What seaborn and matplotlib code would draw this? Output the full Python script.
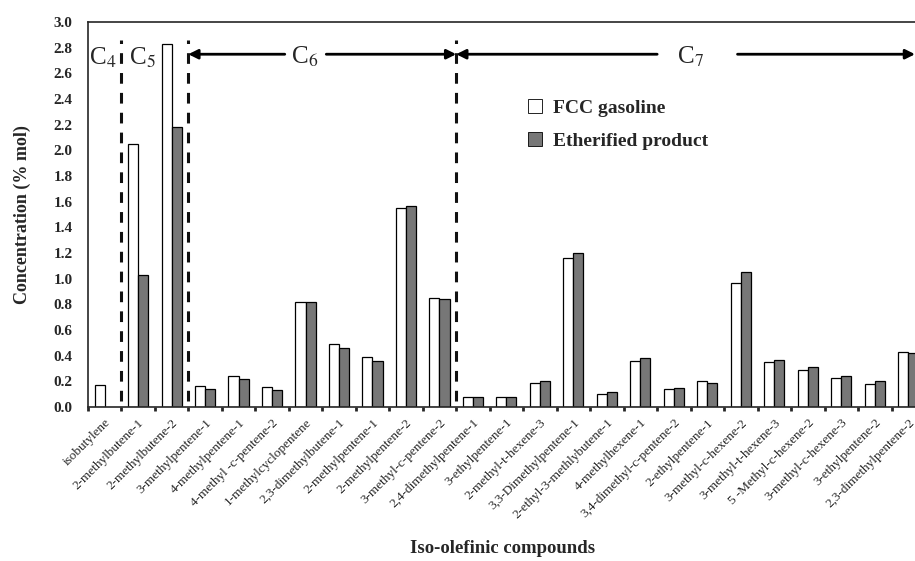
import numpy as np
import pandas as pd
import seaborn as sns
import matplotlib.pyplot as plt

# data
compounds = [
    "isobutylene", "2-methylbutene-1", "2-methylbutene-2", "3-methylpentene-1",
    "4-methylpentene-1", "4-methyl -c-pentene-2", "1-methylcyclopentene",
    "2,3-dimethylbutene-1", "2-methylpentene-1", "2-methylpentene-2",
    "3-methyl-c-pentene-2", "2,4-dimethylpentene-1", "3-ethylpentene-1",
    "2-methyl-t-hexene-3", "3,3-Dimethylpentene-1", "2-ethyl-3-methlybutene-1",
    "4-methylhexene-1", "3,4-dimethyl-c-pentene-2", "2-ethylpentene-1",
    "3-methyl-c-hexene-2", "3-methyl-t-hexene-3", "5 -Methyl-c-hexene-2",
    "3-methyl-c-hexene-3", "3-ethylpentene-2", "2,3-dimethylpentene-2",
]
fcc = [0.17, 2.05, 2.83, 0.16, 0.24, 0.155, 0.82, 0.49, 0.39, 1.55, 0.85,
       0.08, 0.075, 0.19, 1.16, 0.105, 0.36, 0.14, 0.20, 0.97, 0.35, 0.29,
       0.225, 0.18, 0.43]
etherified = [np.nan, 1.03, 2.18, 0.14, 0.22, 0.135, 0.82, 0.46, 0.36, 1.57,
              0.84, 0.08, 0.08, 0.20, 1.20, 0.115, 0.38, 0.145, 0.19, 1.05,
              0.37, 0.31, 0.24, 0.20, 0.42]
series = ["FCC gasoline", "Etherified product"]

df = pd.DataFrame({
    "compound": compounds * 2,
    "series": [series[0]] * len(compounds) + [series[1]] * len(compounds),
    "value": fcc + etherified,
})

sns.set_style("ticks")
plt.rcParams["font.family"] = ["Liberation Serif", "DejaVu Serif"]
plt.rcParams["mathtext.fontset"] = "stix"

fig = plt.figure(figsize=(9.15, 5.61), dpi=100)
ax = fig.add_axes([0.096, 0.2745, 0.915, 0.686])

sns.barplot(data=df, x="compound", y="value", hue="series", hue_order=series,
            palette={series[0]: "white", series[1]: "#777777"},
            edgecolor="black", linewidth=0.9, width=0.6, ax=ax)

n = len(compounds)
ax.set_xlim(-0.5, n - 0.5)
ax.set_ylim(0, 3.0)
ax.set_yticks(np.arange(0, 3.01, 0.2))
ax.set_yticklabels([f"{v:.1f}" for v in np.arange(0, 3.01, 0.2)],
                   fontweight="bold", fontsize=11)
ax.tick_params(axis="y", length=0, pad=11)

ax.set_xticks(range(n))
ax.set_xticklabels(compounds, rotation=45, ha="right", rotation_mode="anchor",
                   fontsize=9.5)
ax.tick_params(axis="x", which="major", length=0, pad=7)
ax.set_xticks(np.arange(-0.5, n, 1), minor=True)
ax.tick_params(axis="x", which="minor", length=3, width=2, direction="out")

for s in ax.spines.values():
    s.set_linewidth(1.2)

ax.set_xlabel("Iso-olefinic compounds", fontweight="bold", fontsize=13.5)
ax.xaxis.set_label_coords(0.495, -0.345)
ax.set_ylabel("Concentration (% mol)", fontweight="bold", fontsize=13,
              labelpad=16)

# group dividers
for xb in [0.5, 2.5, 10.5]:
    ax.plot([xb, xb], [0.05, 2.86], color="#111111", lw=2.2,
            linestyle=(0, (3.5, 3)))

ax.text(-0.05, 2.72, r"C$_4$", fontsize=18, ha="center", va="center")
ax.text(1.14, 2.72, r"C$_5$", fontsize=18, ha="center", va="center")
ax.text(5.98, 2.73, r"C$_6$", fontsize=18, ha="center", va="center")
ax.text(17.48, 2.73, r"C$_7$", fontsize=18, ha="center", va="center")

arrow = dict(arrowstyle="-|>", color="black", lw=2, mutation_scale=14,
             shrinkA=0, shrinkB=0)
ya = 2.75
for start, end in [(5.38, 2.5), (6.62, 10.5), (16.5, 10.5), (18.9, 24.2)]:
    ax.annotate("", xy=(end, ya), xytext=(start, ya), arrowprops=arrow)

leg = ax.legend(loc="upper left", bbox_to_anchor=(0.505, 0.845), frameon=False,
                handlelength=0.7, handleheight=0.7, handletextpad=0.6,
                labelspacing=0.8, prop={"weight": "bold", "size": 14})
for h in leg.legend_handles:
    h.set_linewidth(0.6)

fig.savefig("out.png", dpi=100)
